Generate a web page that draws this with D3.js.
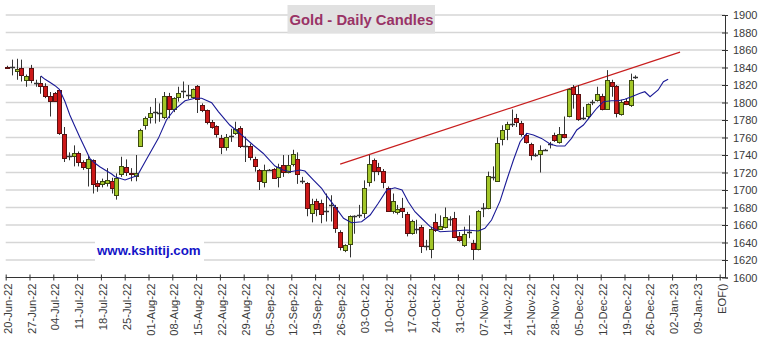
<!DOCTYPE html>
<html>
<head>
<meta charset="utf-8">
<script src="https://cdn.jsdelivr.net/npm/d3@7"></script>
<style>
  html, body { margin: 0; padding: 0; background: #ffffff; }
  svg { display: block; }
  text { font-family: "Liberation Sans", Arial, sans-serif; }
</style>
</head>
<body>
<svg id="chart" width="763" height="344"></svg>
<script>
// ---------------- DATA ----------------
const chartTitle = "Gold - Daily Candles";
const watermark = "www.kshitij.com";

const tickLabels = ["20-Jun-22","27-Jun-22","04-Jul-22","11-Jul-22","18-Jul-22","25-Jul-22",
  "01-Aug-22","08-Aug-22","15-Aug-22","22-Aug-22","29-Aug-22","05-Sep-22","12-Sep-22",
  "19-Sep-22","26-Sep-22","03-Oct-22","10-Oct-22","17-Oct-22","24-Oct-22","31-Oct-22",
  "07-Nov-22","14-Nov-22","21-Nov-22","28-Nov-22","05-Dec-22","12-Dec-22","19-Dec-22",
  "26-Dec-22","02-Jan-23","09-Jan-23","EOF()"];

const yTicks = [1600,1620,1640,1660,1680,1700,1720,1740,1760,1780,1800,1820,1840,1860,1880,1900];

// daily candles (trading day index 0 = 20-Jun-22)
const opens = [1841,1840,1836,1839,1825,1839,1822,1822,1819,1808,1811,1814,1764,1739,1739,1742,1732,1725,1734,1708,
  1707,1708,1710,1695,1718,1726,1719,1716,1751,1774,1783,1789.5,1788,1783,1807,1792,1806,1813.5,1809,1806,
  1819,1797,1791,1778,1773,1760,1750,1762,1766,1771,1750,1750,1735,1723,1709,1723,1724,1714,1729,1720,
  1729,1736,1710.5,1708,1674,1687,1685,1676,1683,1681,1652,1631,1638,1670,1671,1673,1710,1734,1726,1722,
  1702,1676,1674,1680,1673,1651,1656,1658,1636,1633,1663,1656,1658,1667,1668,1648,1638,1652,1639,1633,
  1680,1679,1715,1711,1759,1770,1776,1782,1777,1763,1753,1740,1741,1746,1752.5,1763,1755,1764,1784,1818,
  1810,1782,1784,1801,1803,1808,1793,1823,1819,1787,1802,1798,1829];
const highs = [1842,1849,1850,1849,1832,1843,1826,1830,1822,1812,1812,1815,1772,1743,1751,1744,1734,1740,1735,1711,
  1713,1725,1714,1719,1738,1735,1725,1740,1770,1784,1795,1805,1799,1812,1811,1806,1818,1824,1820,1816,
  1820,1799,1792,1780,1774,1763,1764,1770,1778,1773,1761,1753,1738,1724,1729,1724,1725,1730,1740,1740,
  1746,1743,1715,1709,1690,1690,1689,1696,1694,1683,1654,1638,1671,1671,1683,1711,1740,1736,1731,1724,
  1704,1696,1683,1691,1675,1666,1666,1660,1643,1658,1673,1671,1680,1670,1675,1652,1658,1671,1643,1677,
  1685,1721,1727,1760,1774,1778,1792,1787,1779,1765,1754,1742,1751,1747,1755,1765.5,1772,1784,1816,1820,
  1820,1795,1799,1803,1818,1810,1837,1826,1820,1803,1804,1833,1831];
const lows = [1839,1831,1826,1824,1818,1822,1818,1810,1805,1784,1801,1763,1732,1734,1727,1727,1723,1704,1696,1698,
  1703,1704,1696,1689,1715,1716,1710,1710,1750,1769,1776,1776,1778,1781,1782,1789,1801,1805,1804,1804,
  1788,1789,1775,1770,1760,1741,1745,1755,1763,1748,1732,1734,1721,1700,1703,1722,1713,1703,1715,1719,
  1727,1707,1707,1670,1663,1670,1662,1664,1664,1651,1631,1629,1623,1650,1668,1668,1704,1710,1717,1702,
  1675,1673,1672,1668,1647,1649,1650,1628,1631,1622,1652,1655,1656,1659,1645,1641,1635,1645,1620,1631,
  1669,1678,1711,1710,1751,1757,1772,1772,1761,1753,1734,1738,1720,1745,1747.5,1755,1753,1759,1783,1793,
  1779,1780,1781,1797,1801,1791,1792,1806.6,1783,1785,1797,1795,1827];
const closes = [1840,1840,1838,1831,1830,1825,1822,1819,1808,1802,1802,1765,1737,1739,1742,1732,1726,1735,1707,1704,
  1710,1711,1702,1714,1727,1720,1718,1719,1769,1782,1788,1789.5,1788,1807,1792,1805,1811,1813.5,1809,1815,
  1804,1791,1777,1772,1764,1750,1761,1762,1770,1751,1750,1737,1727,1710,1723,1723,1714,1726,1721,1728,
  1741,1719,1710.5,1679,1684,1678,1673,1676,1683,1657,1635,1637,1670,1670,1671,1702,1730,1721,1721,1710,
  1676,1687,1678,1677,1651,1665,1656,1636,1636,1656,1654,1659,1669,1667,1646,1643,1650,1652,1632,1676,
  1680,1716,1715,1754,1769,1776,1776,1777,1764,1755,1741,1740,1746,1746,1752.5,1757,1764,1761,1815,1810,
  1781,1782,1798,1801,1810,1793,1826,1819,1788,1801,1799,1826,1829];

// displaced moving average (day position, value)
const maDay = [7.1,8.0,9.0,10.1,11.0,12.2,13.2,14.3,15.3,16.4,17.4,18.5,19.5,20.6,22.0,22.7,24.8,27.4,29.4,31.8,
  33.5,35.1,37.4,39.5,40.9,43.0,44.4,46.8,49.3,51.7,53.8,56.3,58.0,59.5,61.6,62.6,64.4,66.1,66.8,68.9,
  70.7,72.4,74.5,76.3,78.0,79.8,81.5,83.0,84.3,85.7,87.1,88.9,91.0,93.8,96.6,99.0,100.4,101.8,103.6,105.0,
  106.4,107.8,109.2,110.6,112.3,114.1,115.5,117.2,118.6,119.7,121.1,122.5,123.9,125.3,127.0,128.4,129.8,131.2,
  133.0,134.0,135.1,136.8,137.9,138.9];
const maValue = [1830.3,1826.5,1823.1,1819.2,1815.1,1800.9,1785.7,1772.3,1760.2,1747.7,1736.2,1730.5,1726.6,1722.9,1718.3,1715.2,1711.4,1716.6,1736,1759,
  1780,1791.4,1802,1804.8,1804.8,1799.8,1789.5,1774.3,1762.9,1751.4,1742,1727.4,1722.9,1720.9,1722.9,1721.7,1711.4,1702,1696.2,1681,
  1667.7,1662.6,1663.8,1671.4,1684.8,1700,1702.6,1700,1686.6,1675.2,1667.7,1658.1,1652.3,1653.1,1654.3,1653.1,1656.2,1665.7,1687.6,1711.4,
  1734.3,1755.2,1764.8,1762.9,1759,1752.6,1750.3,1750.3,1759,1768.6,1774.3,1783.8,1793.4,1800.9,1802,1802,1803.7,1806.6,
  1810.5,1812.3,1806.6,1814.3,1823.8,1826.5];

// resistance trendline
const trendDay = [70, 141.4];
const trendValue = [1729.5, 1857.5];

// ---------------- CHART ----------------
const svg = d3.select("#chart");
const yAxisX = 725;
const dayShift = 0.27; // candles sit slightly right of the Monday tick

const x = d3.scaleLinear().domain([0, 150]).range([5.7, 719.7]);
const y = d3.scaleLinear().domain([1600, 1900]).range([277.5, 15]);

// gridlines
svg.append("g").selectAll("line").data(yTicks.filter(v => v > 1600)).join("line")
  .attr("x1", x(0)).attr("x2", yAxisX)
  .attr("y1", d => y(d)).attr("y2", d => y(d))
  .attr("stroke", "#d6d6d6").attr("stroke-width", 1.4);

// title
const titleG = svg.append("g");
titleG.append("rect").attr("x", 287.5).attr("y", 5).attr("width", 147.5).attr("height", 28.5)
  .attr("fill", "#e1e1e1");
titleG.append("text").attr("x", 361.5).attr("y", 25).attr("text-anchor", "middle")
  .attr("font-size", "14.8px").attr("font-weight", "bold").attr("fill", "#993366")
  .text(chartTitle);

// watermark
svg.append("rect").attr("x", 95).attr("y", 241).attr("width", 109).attr("height", 21).attr("fill", "#ffffff");
svg.append("text").attr("x", 97).attr("y", 255).attr("font-size", "13.3px").attr("font-weight", "bold")
  .attr("fill", "#1414c8").text(watermark);

// trendline
svg.append("line")
  .attr("x1", x(trendDay[0] + dayShift)).attr("y1", y(trendValue[0]))
  .attr("x2", x(trendDay[1] + dayShift)).attr("y2", y(trendValue[1]))
  .attr("stroke", "#c81e1e").attr("stroke-width", 1.2);

// candles
const candles = opens.map((o, i) => ({ i, o, h: highs[i], l: lows[i], c: closes[i] }));
const cx = d => Math.round(x(d.i + dayShift)) + 0.5;
const cg = svg.append("g");
cg.selectAll("line.wick").data(candles).join("line").attr("class", "wick")
  .attr("x1", cx).attr("x2", cx)
  .attr("y1", d => y(d.h)).attr("y2", d => y(d.l))
  .attr("stroke", "#333333").attr("stroke-width", 1);
cg.selectAll("rect.body").data(candles.filter(d => Math.abs(d.c - d.o) >= 1)).join("rect").attr("class", "body")
  .attr("x", d => cx(d) - 2).attr("width", 4)
  .attr("y", d => Math.round(y(Math.max(d.o, d.c))) + 0.5)
  .attr("height", d => Math.max(1, Math.round(Math.abs(y(d.o) - y(d.c)))))
  .attr("fill", d => d.c > d.o ? "#a2c628" : "#cc1818")
  .attr("stroke", d => d.c > d.o ? "#3c4a10" : "#5a1010").attr("stroke-width", 1);
cg.selectAll("line.doji").data(candles.filter(d => Math.abs(d.c - d.o) < 1)).join("line").attr("class", "doji")
  .attr("x1", d => cx(d) - 2.5).attr("x2", d => cx(d) + 2.5)
  .attr("y1", d => Math.round(y(d.c)) + 0.5).attr("y2", d => Math.round(y(d.c)) + 0.5)
  .attr("stroke", "#333333").attr("stroke-width", 1.5);

// moving average
const ma = maDay.map((d, k) => [d, maValue[k]]);
svg.append("path").datum(ma)
  .attr("d", d3.line().x(d => x(d[0] + dayShift)).y(d => y(d[1])))
  .attr("fill", "none").attr("stroke", "#1a1a96").attr("stroke-width", 1.1);

// x axis
const xAxis = d3.axisBottom(x)
  .tickValues(tickLabels.map((t, k) => k * 5))
  .tickFormat((d, k) => tickLabels[k])
  .tickSize(3).tickPadding(0);
const gx = svg.append("g").attr("transform", `translate(0,${y(1600)})`).call(xAxis);
gx.select(".domain").remove();
gx.append("line").attr("x1", x(0)).attr("x2", yAxisX).attr("stroke", "#333333");
gx.selectAll(".tick line").attr("y1", -3).attr("y2", 3).attr("stroke", "#333333");
gx.selectAll(".tick text")
  .attr("transform", "rotate(-90)")
  .attr("x", -6).attr("y", 0).attr("dy", "0.5em")
  .attr("text-anchor", "end")
  .attr("font-size", "11.2px").attr("font-family", "Liberation Sans, Arial, sans-serif")
  .attr("fill", "#3a3a3a");

// y axis (right)
const yAxis = d3.axisRight(y).tickValues(yTicks).tickFormat(d3.format("d")).tickSize(3).tickPadding(0);
const gy = svg.append("g").attr("transform", `translate(${yAxisX},0)`).call(yAxis);
gy.select(".domain").attr("stroke", "#333333");
gy.selectAll(".tick line").attr("x1", -3).attr("x2", 3).attr("stroke", "#333333");
gy.selectAll(".tick text").attr("x", 8).attr("dy", "0.35em")
  .attr("font-size", "11px").attr("font-family", "Liberation Sans, Arial, sans-serif")
  .attr("fill", "#3a3a3a");
</script>
</body>
</html>
